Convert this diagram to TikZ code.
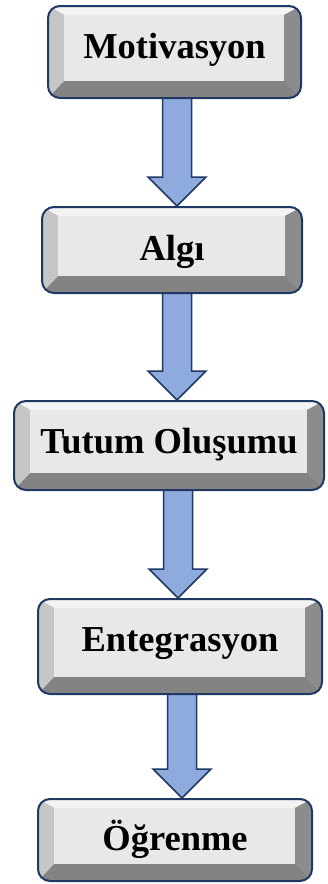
\documentclass[tikz,border=0pt]{standalone}
\usepackage{fontspec}
\setmainfont{Liberation Serif}
\usetikzlibrary{calc,backgrounds}

\definecolor{navy}{HTML}{203864}
\definecolor{arrowblue}{HTML}{8FAADC}
\definecolor{bevface}{HTML}{E8E8E8}
\definecolor{bevtop}{HTML}{F3F3F3}
\definecolor{bevleft}{HTML}{C6C6C6}
\definecolor{bevright}{HTML}{8C8C8C}
\definecolor{bevbottom}{HTML}{838383}

\tikzset{
  bevelbox/.style={
    draw=navy, line width=2pt, rounded corners=12pt,
    font=\fontsize{36.5}{40}\selectfont\bfseries,
    inner sep=0pt, text height=24pt,
    path picture={
      \begin{scope}[sharp corners]
        \coordinate (pnw) at (path picture bounding box.north west);
        \coordinate (pne) at (path picture bounding box.north east);
        \coordinate (psw) at (path picture bounding box.south west);
        \coordinate (pse) at (path picture bounding box.south east);
        \coordinate (fnw) at ($(pnw)+(16pt,-9pt)$);
        \coordinate (fne) at ($(pne)+(-17pt,-9pt)$);
        \coordinate (fsw) at ($(psw)+(16pt,17pt)$);
        \coordinate (fse) at ($(pse)+(-17pt,17pt)$);
        \fill[bevbottom] (psw) rectangle (pne);
        \fill[bevtop] (pnw) -- (pne) -- (fne) -- (fnw) -- cycle;
        \fill[bevleft] (pnw) -- (fnw) -- (fsw) -- (psw) -- cycle;
        \fill[bevright] (pne) -- (fne) -- (fse) -- (pse) -- cycle;
        \fill[bevface] (fsw) rectangle (fne);
      \end{scope}
    }
  },
  flowarrow/.style={fill=arrowblue, draw=navy, line width=1.5pt, line join=miter}
}

% block arrow from the bottom of box #1 to the top of box #2 at x = #3 (pt)
\newcommand\blockarrow[3]{%
  \draw[flowarrow] let \p1=(#1.south), \p2=(#2.north) in
    (#3pt-14.5pt,\y1+3pt) -- (#3pt-14.5pt,\y2+29pt) -- (#3pt-29pt,\y2+29pt)
    -- (#3pt,\y2) -- (#3pt+29pt,\y2+29pt) -- (#3pt+14.5pt,\y2+29pt)
    -- (#3pt+14.5pt,\y1+3pt) -- cycle;}

\begin{document}
\begin{tikzpicture}[x=1pt,y=1pt]
  \useasboundingbox (0,0) rectangle (327,-884);

  \node[bevelbox, minimum width=253pt, minimum height=92pt, text depth=12pt]
    (mot) at (174.5,-52) {Motivasyon};
  \node[bevelbox, minimum width=260pt, minimum height=86pt, text depth=4pt]
    (alg) at (172,-250) {Algı};
  \node[bevelbox, minimum width=310pt, minimum height=89pt, text depth=9pt]
    (tut) at (169,-445.5) {Tutum Oluşumu};
  \node[bevelbox, minimum width=284pt, minimum height=95pt, text depth=15pt]
    (ent) at (180,-646.5) {Entegrasyon};
  \node[bevelbox, minimum width=274pt, minimum height=82pt, text depth=4pt]
    (ogr) at (175,-840) {Öğrenme};

  \begin{scope}[on background layer]
    \blockarrow{mot}{alg}{177}
    \blockarrow{alg}{tut}{177}
    \blockarrow{tut}{ent}{178}
    \blockarrow{ent}{ogr}{182}
  \end{scope}
\end{tikzpicture}
\end{document}
